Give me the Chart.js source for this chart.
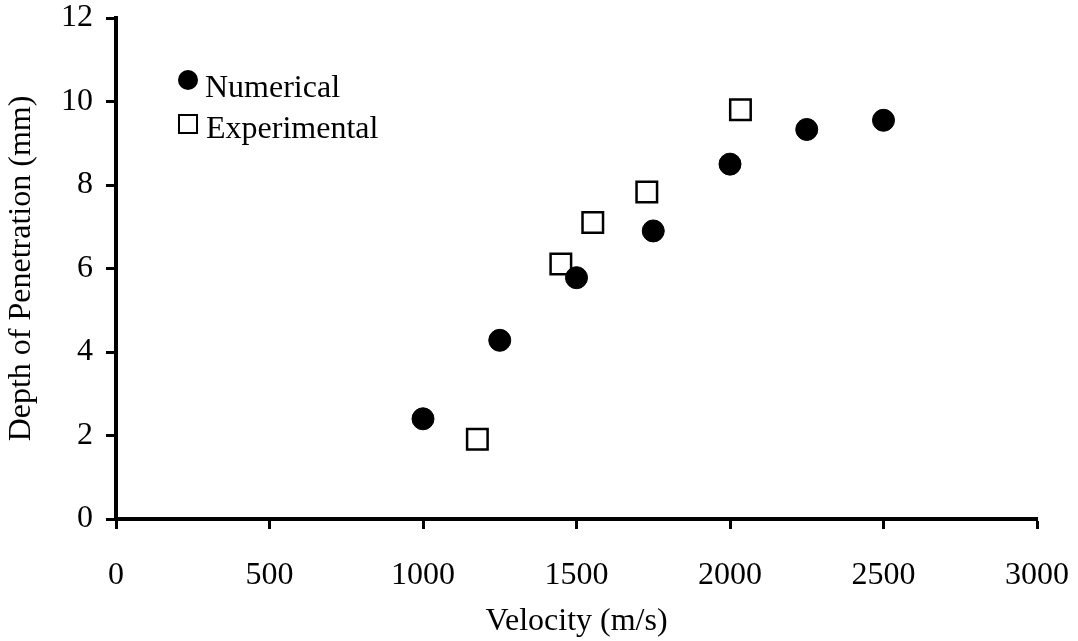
<!DOCTYPE html>
<html>
<head>
<meta charset="utf-8">
<script src="https://cdn.jsdelivr.net/npm/chart.js@4"></script>
<style>
  html, body { margin: 0; padding: 0; background: #fff; }
  #wrap { width: 1078px; height: 641px; }
</style>
</head>
<body>
<div id="wrap"><canvas id="chart"></canvas></div>
<script>
// Numerical results
const numVelocity = [1000, 1250, 1500, 1750, 2000, 2250, 2500];
const numDepth = [2.4, 4.28, 5.78, 6.9, 8.5, 9.33, 9.55];

// Experimental results
const expVelocity = [1177, 1449, 1553, 1729, 2034];
const expDepth = [1.91, 6.11, 7.1, 7.83, 9.8];

const seriesNames = ['Numerical', 'Experimental'];
const xTitle = 'Velocity (m/s)';
const yTitle = 'Depth of Penetration (mm)';

const serif = "'Liberation Serif', 'Times New Roman', serif";

function toPoints(xs, ys) {
    return xs.map((x, i) => ({ x: x, y: ys[i] }));
}

// legend drawn inside the plot, top-left, like the original
const insideLegend = {
    id: 'insideLegend',
    afterDraw(chart) {
        const ctx = chart.ctx;
        const area = chart.chartArea;
        const x0 = area.left + 72;
        const y0 = area.top + 62;
        ctx.save();
        ctx.font = '32px ' + serif;
        ctx.fillStyle = '#000';
        ctx.textBaseline = 'alphabetic';
        ctx.textAlign = 'left';

        // circle
        ctx.beginPath();
        ctx.arc(x0, y0, 10, 0, Math.PI * 2);
        ctx.fill();
        ctx.fillText(seriesNames[0], x0 + 17, y0 + 17);

        // square
        ctx.lineWidth = 2;
        ctx.strokeStyle = '#000';
        ctx.strokeRect(x0 - 9, y0 + 35, 18, 18);
        ctx.fillText(seriesNames[1], x0 + 18, y0 + 58);
        ctx.restore();
    }
};

function plainTick(value) {
    return String(value);
}

new Chart(document.getElementById('chart'), {
    type: 'scatter',
    data: {
        datasets: [
            {
                label: seriesNames[0],
                data: toPoints(numVelocity, numDepth),
                pointStyle: 'circle',
                pointRadius: 11,
                pointHoverRadius: 11,
                backgroundColor: '#000',
                borderColor: '#000',
                borderWidth: 1
            },
            {
                label: seriesNames[1],
                data: toPoints(expVelocity, expDepth),
                pointStyle: 'rect',
                pointRadius: 14.5,
                pointHoverRadius: 14.5,
                backgroundColor: '#fff',
                borderColor: '#000',
                borderWidth: 2.5
            }
        ]
    },
    options: {
        responsive: true,
        maintainAspectRatio: false,
        animation: false,
        layout: {
            padding: { top: 18, right: 41, bottom: 0, left: 0 }
        },
        plugins: {
            legend: { display: false },
            tooltip: { enabled: false }
        },
        scales: {
            x: {
                type: 'linear',
                min: 0,
                max: 3000,
                afterFit(scale) {
                    scale.height = 122;
                    scale.paddingLeft = 0;
                    scale.paddingRight = 0;
                },
                ticks: {
                    stepSize: 500,
                    padding: 27,
                    color: '#000',
                    font: { family: serif, size: 32 },
                    callback: plainTick
                },
                grid: {
                    drawOnChartArea: false,
                    drawTicks: true,
                    tickLength: 10,
                    tickWidth: 3,
                    tickColor: '#000'
                },
                border: { color: '#000', width: 4 },
                title: {
                    display: true,
                    text: xTitle,
                    color: '#000',
                    font: { family: serif, size: 32 },
                    padding: { top: 6, bottom: 0 }
                }
            },
            y: {
                type: 'linear',
                min: 0,
                max: 12,
                afterFit(scale) {
                    scale.width = 116;
                    scale.paddingTop = 0;
                    scale.paddingBottom = 0;
                },
                ticks: {
                    stepSize: 2,
                    padding: 13,
                    color: '#000',
                    font: { family: serif, size: 32 },
                    callback: plainTick
                },
                grid: {
                    drawOnChartArea: false,
                    drawTicks: true,
                    tickLength: 10,
                    tickWidth: 3,
                    tickColor: '#000'
                },
                border: { color: '#000', width: 4 },
                title: {
                    display: true,
                    text: yTitle,
                    color: '#000',
                    font: { family: serif, size: 32 },
                    padding: { top: 2, bottom: 0 }
                }
            }
        }
    },
    plugins: [insideLegend]
});
</script>
</body>
</html>
